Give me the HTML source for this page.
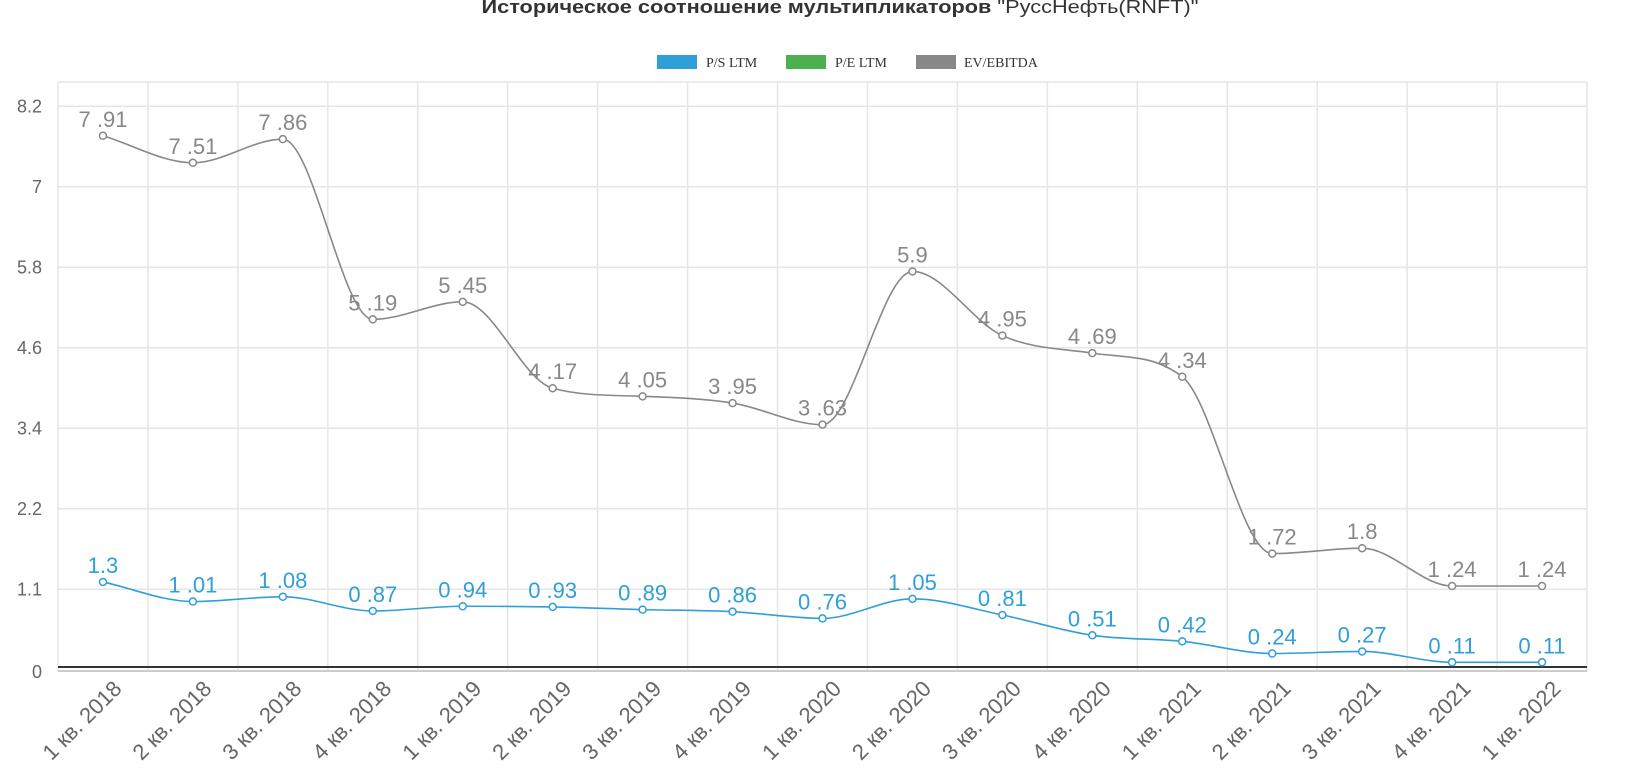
<!DOCTYPE html>
<html><head><meta charset="utf-8"><style>
html,body{margin:0;padding:0;background:#fff;width:1638px;height:782px;overflow:hidden}
svg{display:block}
</style></head><body>
<svg id="c" width="1638" height="782" xmlns="http://www.w3.org/2000/svg" font-family="'Liberation Sans', Arial, sans-serif">
<text x="840" y="13" text-anchor="middle" font-size="18" fill="#333" textLength="717" lengthAdjust="spacingAndGlyphs"><tspan font-weight="bold">Историческое соотношение мультипликаторов</tspan> "РуссНефть(RNFT)"</text>
<rect x="657" y="55" width="40" height="14" fill="#2f9fd8"/>
<text x="706" y="67" font-family="'Liberation Serif', serif" font-size="14" fill="#333">P/S LTM</text>
<rect x="786" y="55" width="40" height="14" fill="#4caf50"/>
<text x="835" y="67" font-family="'Liberation Serif', serif" font-size="14" fill="#333">P/E LTM</text>
<rect x="916" y="55" width="40" height="14" fill="#888"/>
<text x="964" y="67" font-family="'Liberation Serif', serif" font-size="14" fill="#333">EV/EBITDA</text>
<g id="g"></g>
</svg>
<script>
var NS="http://www.w3.org/2000/svg",g=document.getElementById('g');
function el(t,a,txt){var e=document.createElementNS(NS,t);for(var k in a)e.setAttribute(k,a[k]);if(txt!=null)e.textContent=txt;g.appendChild(e);return e;}
var L=58,R=1587,T=82,step=(R-L)/17,Z=669.7,K=67.5;
var gy=[82,106.3,186.8,267.3,347.8,428.3,508.8,589.3];
var lab=["","8.2","7","5.8","4.6","3.4","2.2","1.1"];
gy.forEach(function(y,i){el('line',{x1:L,x2:R,y1:y,y2:y,stroke:'#e6e6e6','stroke-width':1.5});if(lab[i])el('text',{x:42,y:y+6,'text-anchor':'end','font-size':18,fill:'#666'},lab[i]);});
el('text',{x:42,y:678,'text-anchor':'end','font-size':18,fill:'#666'},"0");
for(var i=0;i<=17;i++){var x=L+i*step;el('line',{x1:x,x2:x,y1:T,y2:672,stroke:'#e6e6e6','stroke-width':1.5});}
el('line',{x1:L,x2:R,y1:671,y2:671,stroke:'#ccc','stroke-width':2});
el('line',{x1:L,x2:R,y1:667,y2:667,stroke:'#333','stroke-width':2});
var cats=["1 кв. 2018","2 кв. 2018","3 кв. 2018","4 кв. 2018","1 кв. 2019","2 кв. 2019","3 кв. 2019","4 кв. 2019","1 кв. 2020","2 кв. 2020","3 кв. 2020","4 кв. 2020","1 кв. 2021","2 кв. 2021","3 кв. 2021","4 кв. 2021","1 кв. 2022"];
cats.forEach(function(c,i){var x=L+(i+0.5)*step+20,y=690;el('text',{x:x,y:y,'text-anchor':'end','font-size':22,fill:'#666',transform:'rotate(-45 '+x+' '+y+')'},c);});
function series(vals,labels,col){
 var p=vals.map(function(v,i){return [L+(i+0.5)*step,Z-v*K];});
 var n=p.length,dl=[],m=[];
 for(var i=0;i<n-1;i++)dl[i]=(p[i+1][1]-p[i][1])/(p[i+1][0]-p[i][0]);
 for(var i=0;i<n;i++){
  if(i==0)m[i]=dl[0];else if(i==n-1)m[i]=dl[n-2];
  else if(dl[i-1]*dl[i]<=0)m[i]=0;else m[i]=(dl[i-1]+dl[i])/2;}
 for(var i=0;i<n-1;i++){if(dl[i]==0){m[i]=0;m[i+1]=0;continue;}
  var a=m[i]/dl[i],b=m[i+1]/dl[i],s=a*a+b*b;if(s>9){var t=3/Math.sqrt(s);m[i]=t*a*dl[i];m[i+1]=t*b*dl[i];}}
 var d='M'+p[0][0]+','+p[0][1];
 for(var i=0;i<n-1;i++){var h=(p[i+1][0]-p[i][0])/3;
  d+=' C'+(p[i][0]+h)+','+(p[i][1]+m[i]*h)+' '+(p[i+1][0]-h)+','+(p[i+1][1]-m[i+1]*h)+' '+p[i+1][0]+','+p[i+1][1];}
 el('path',{d:d,fill:'none',stroke:col,'stroke-width':1.6});
 p.forEach(function(q,i){el('circle',{cx:q[0],cy:q[1],r:3.5,fill:'#fff',stroke:col,'stroke-width':1.5});
  el('text',{x:q[0],y:q[1]-9,'text-anchor':'middle','font-size':22,fill:col},labels[i]);});
}
series([7.91,7.51,7.86,5.19,5.45,4.17,4.05,3.95,3.63,5.9,4.95,4.69,4.34,1.72,1.8,1.24,1.24],
["7 .91","7 .51","7 .86","5 .19","5 .45","4 .17","4 .05","3 .95","3 .63","5.9","4 .95","4 .69","4 .34","1 .72","1.8","1 .24","1 .24"],"#888");
series([1.3,1.01,1.08,0.87,0.94,0.93,0.89,0.86,0.76,1.05,0.81,0.51,0.42,0.24,0.27,0.11,0.11],
["1.3","1 .01","1 .08","0 .87","0 .94","0 .93","0 .89","0 .86","0 .76","1 .05","0 .81","0 .51","0 .42","0 .24","0 .27","0 .11","0 .11"],"#2f9fd8");
</script>
</body></html>
